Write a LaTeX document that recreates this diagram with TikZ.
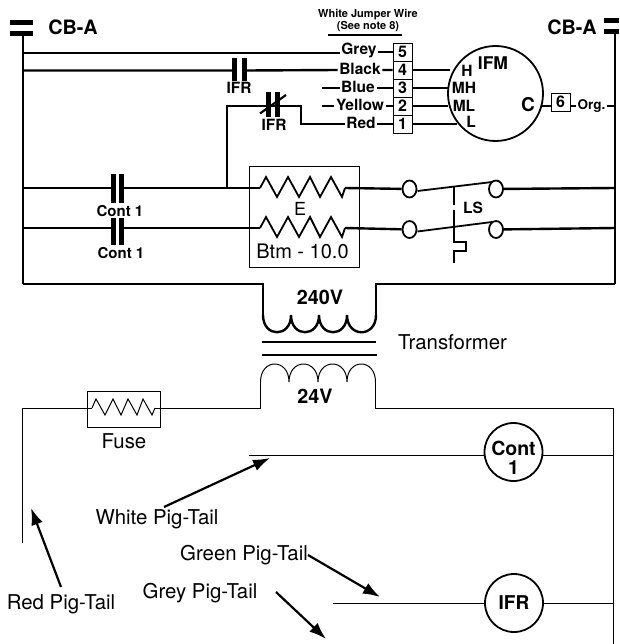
\documentclass[tikz,border=0pt]{standalone}
\usepackage{fontspec}
\setmainfont{TeX Gyre Heros}
\usetikzlibrary{shapes.geometric,arrows.meta}
\tikzset{
  wire/.style={line width=2.4pt},
  thinwire/.style={line width=1pt},
  bar/.style={line width=5pt},
  lbl/.style={inner sep=1.5pt,anchor=mid,yshift=-3pt,font=\bfseries\fontsize{15.5}{15.5}\selectfont},
  big/.style={inner sep=1pt,anchor=mid,yshift=-3.5pt,font=\bfseries\fontsize{19.8}{19.8}\selectfont},
  plain/.style={inner sep=1pt,anchor=mid,yshift=-4pt,font=\fontsize{20.4}{20.4}\selectfont},
  term/.style={draw,line width=0.8pt,minimum width=19pt,minimum height=18pt,inner sep=0pt,font=\bfseries\fontsize{16}{16}\selectfont},
  coil/.style={draw,circle,line width=1.8pt,minimum size=58pt,inner sep=0pt},
  swpt/.style={draw,ellipse,line width=1.8pt,minimum width=14pt,minimum height=17pt,inner sep=0pt},
  pig/.style={>={Latex[length=17pt,width=12pt]},->,line width=2.2pt}
}
\begin{document}
\begin{tikzpicture}[x=1pt,y=-1pt]
\useasboundingbox (0,0) rectangle (619,644);

% breakers
\node[big] (cbl) at (73,28) {CB-A};
\node[big] (cbr) at (572,28) {CB-A};
\draw[bar] (10,23) -- (33,23);
\draw[bar] (10,34) -- (33,34);
\draw[bar] (604,21) -- (619,21);
\draw[bar] (604,32) -- (619,32);

\coordinate (bl0) at (23,34);
\coordinate (bl1) at (23,53);
\coordinate (bl2) at (23,70.5);
\coordinate (bl3) at (23,188);
\coordinate (bl4) at (23,228);
\coordinate (bl5) at (23,284);
\coordinate (br0) at (615,34);
\coordinate (br1) at (615,106);
\coordinate (br2) at (615,188);
\coordinate (br3) at (615,228);
\coordinate (br4) at (615,284);
\draw[wire] (bl0) -- (bl5);
\draw[wire] (br0) -- (br4);

% jumper note
\node[inner sep=0pt,align=center,font=\bfseries\fontsize{11}{12.5}\selectfont] (note) at (368,20.5) {White Jumper Wire\\(See note 8)};
\draw[line width=1.6pt] (328,35) -- (402,35);

% terminals
\node[term] (t5) at (402.5,52) {5};
\node[term] (t4) at (402.5,70) {4};
\node[term] (t3) at (402.5,88) {3};
\node[term] (t2) at (402.5,106) {2};
\node[term] (t1) at (402.5,124) {1};
\node[term] (t6) at (560.5,102) {6};

% wire colours
\node[lbl] (grey) at (359,49) {Grey};
\node[lbl] (black) at (360,69) {Black};
\node[lbl] (blue) at (358,87) {Blue};
\node[lbl] (yellow) at (360,105) {Yellow};
\node[lbl] (red) at (361,123) {Red};
\node[lbl,font=\bfseries\fontsize{13.5}{13.5}\selectfont] (org) at (591.5,104) {Org.};

% motor
\node[coil,minimum size=95pt] (ifm) at (495.5,93.5) {};
\node[big,font=\bfseries\fontsize{17.5}{17.5}\selectfont] (ifmt) at (493,63) {IFM};
\node[lbl] (mh) at (464,88) {MH};
\node[lbl] (ml) at (464,106) {ML};
\node[lbl] (mh2) at (467,71) {H};
\node[lbl] (ml2) at (471,122) {L};
\node[big,font=\bfseries\fontsize{19}{19}\selectfont] (mc) at (528,105) {C};

\coordinate (b1) at (450,70);
\coordinate (b2) at (448,88);
\coordinate (b3) at (448,106);
\coordinate (b4) at (457,124);
\coordinate (b5) at (542,106);
\coordinate (blu) at (322,88);
\coordinate (yel) at (322,106);
\coordinate (r1) at (301,124);
\coordinate (r2) at (301,106);
\coordinate (r3) at (227,106);
\coordinate (r4) at (227,188);

\draw[wire] (bl1) -- (grey.west |- bl1) (grey.east |- t5.west) -- (t5.west);
\draw[wire] (bl2) -- (232,70.5) (247,70.5) -- (black.west |- t4.west) (black.east |- t4.west) -- (t4.west);
\draw[wire] (blu) -- (blue.west |- blu) (blue.east |- t3.west) -- (t3.west);
\draw[wire] (yel) -- (yellow.west |- yel) (yellow.east |- t2.west) -- (t2.west);
\draw[wire] (r4) -- (r3) -- (r2) -- (r1) -- (red.west |- r1) (red.east |- t1.west) -- (t1.west);
\draw[wire] (t4.east) -- (b1);
\draw[wire] (t3.east) -- (b2);
\draw[wire] (t2.east) -- (b3);
\draw[wire] (t1.east) -- (b4);
\draw[wire] (b5) -- (b5 -| t6.west);
\draw[wire] (t6.east |- b5) -- (org.west |- b5);
\draw[wire] (org.east |- b5) -- (br1);

% relay contacts
\draw[bar] (234.5,58) -- (234.5,81);
\draw[bar] (244.5,58) -- (244.5,81);
\node[lbl] (ifra) at (239,88) {IFR};
\draw[bar] (268.5,92) -- (268.5,117);
\draw[bar] (277.5,92) -- (277.5,117);
\draw[line width=2.2pt] (260,113.5) -- (286,95);
\node[lbl] (ifrb) at (274,125) {IFR};

% power contacts
\draw[bar] (113.5,174) -- (113.5,203);
\draw[bar] (121.5,174) -- (121.5,203);
\draw[bar] (113.5,218) -- (113.5,245);
\draw[bar] (121.5,218) -- (121.5,245);
\node[lbl,font=\bfseries\fontsize{15}{15}\selectfont] (conta) at (120,211) {Cont 1};
\node[lbl,font=\bfseries\fontsize{15}{15}\selectfont] (contb) at (121,252.5) {Cont 1};

% heaters
\node[draw,line width=0.7pt,minimum width=110pt,minimum height=101pt,inner sep=0pt] (heat) at (304,216.5) {};
\node[plain,font=\fontsize{18}{18}\selectfont] (e) at (300,209) {E};
\node[plain,font=\fontsize{20}{20}\selectfont] (btm) at (302.5,252) {Btm - 10.0};
\coordinate (ha) at (260,188);
\coordinate (hb) at (345,188);
\coordinate (hc) at (260,228);
\coordinate (hd) at (345,228);
\draw[line width=1.8pt] (ha) -- (266,177) -- (277,197) -- (288,177) -- (299,197) -- (310,177) -- (320,197) -- (331,177) -- (342,197) -- (hb);
\draw[line width=1.8pt] (hc) -- (266,217) -- (277,237) -- (288,217) -- (299,237) -- (310,217) -- (320,237) -- (331,217) -- (342,237) -- (hd);
\draw[wire] (bl3) -- (111,188) (124,188) -- (ha);
\draw[wire] (bl4) -- (111,228) (124,228) -- (hc);

% limit switch
\node[swpt] (s1) at (409.5,189) {};
\node[swpt] (s2) at (409.5,229.5) {};
\node[swpt] (s3) at (496,189) {};
\node[swpt] (s4) at (496,229.5) {};
\draw[wire] (hb) -- (s1);
\draw[wire] (hd) -- (s2);
\draw[wire] (s3) -- (br2);
\draw[wire] (s4) -- (br3);
\draw[line width=1.8pt] (s1) ++(8,2) -- (492,182);
\draw[line width=1.8pt] (s2) ++(8,2) -- (492,222);
\draw[line width=2pt] (454,186) -- (454,205);
\draw[line width=2pt] (454,210) -- (454,242) -- (466,242) -- (466,251) -- (454,251) -- (454,263);
\node[lbl] (ls) at (473,208) {LS};

% transformer
\coordinate (u1) at (263,284);
\coordinate (u2) at (263,315);
\coordinate (u3) at (376,315);
\coordinate (u4) at (376,284);
\draw[wire] (bl5) -- (u1) -- (u2);
\draw[wire] (u2) .. controls (263,338) and (291,338) .. (291,315) .. controls (291,338) and (319,338) .. (319,315) .. controls (319,338) and (347,338) .. (347,315) .. controls (347,338) and (376,338) .. (u3);
\draw[wire] (u3) -- (u4) -- (br4);
\draw[wire] (262,342) -- (376,342);
\draw[wire] (262,355) -- (377,355);
\coordinate (l1) at (260.5,408);
\coordinate (l2) at (260.5,382);
\coordinate (l3) at (375.5,382);
\coordinate (l4) at (375.5,408);
\draw[thinwire] (l2) .. controls (260.5,358) and (289,358) .. (289,382) .. controls (289,358) and (318,358) .. (318,382) .. controls (318,358) and (347,358) .. (347,382) .. controls (347,358) and (375.5,358) .. (l3);
\draw[thinwire] (l2) -- (l1);
\node[big] (v240) at (320,298) {240V};
\node[big] (v24) at (315,397) {24V};
\node[plain] (tr) at (452.5,343) {Transformer};

% control circuit
\node[draw,line width=0.9pt,minimum width=73pt,minimum height=36pt,inner sep=0pt] (fuse) at (123.5,409) {};
\node[plain] (fuset) at (124,442) {Fuse};
\coordinate (f1) at (92,408);
\coordinate (f2) at (155,408);
\coordinate (c1) at (22.5,543);
\coordinate (c2) at (22.5,408);
\coordinate (c3) at (613,408);
\coordinate (c4) at (613,644);
\draw[thinwire] (f1) -- (96,399) -- (105,415) -- (113,399) -- (121,415) -- (128,399) -- (137,415) -- (143,399) -- (152,415) -- (f2);
\draw[thinwire] (c1) -- (c2) -- (f1);
\draw[thinwire] (f2) -- (l1);
\draw[thinwire] (l3) -- (l4) -- (c3) -- (c4);

\node[coil] (cont) at (513.5,452) {};
\node[inner sep=0pt,align=center,font=\bfseries\fontsize{19.5}{19}\selectfont] (contt) at (513.5,457.5) {Cont\\1};
\node[coil] (ifr) at (514,603) {};
\node[big,font=\bfseries\fontsize{19}{19}\selectfont] (ifrt) at (514,603) {IFR};
\coordinate (w1) at (249,455);
\coordinate (w2) at (333,603);
\draw[thinwire] (w1) -- (w1 -| cont.west);
\draw[thinwire] (w1 -| cont.east) -- (w1 -| c3);
\draw[thinwire] (w2) -- (ifr.west);
\draw[thinwire] (ifr.east) -- (w2 -| c3);

% pig tails
\node[plain] (white) at (157,518) {White Pig-Tail};
\node[plain] (green) at (244,554) {Green Pig-Tail};
\node[plain] (greyp) at (200,592) {Grey Pig-Tail};
\node[plain] (redp) at (61,603) {Red Pig-Tail};
\coordinate (swh) at (164,507);
\coordinate (sgr) at (308,555);
\coordinate (sgy) at (276,592);
\coordinate (srd) at (61,587);
\coordinate (awh) at (270,458);
\coordinate (agr) at (380,597);
\coordinate (agy) at (326,639);
\coordinate (ard) at (31,508);
\draw[pig] (swh) -- (awh);
\draw[pig] (sgr) -- (agr);
\draw[pig] (sgy) -- (agy);
\draw[pig] (srd) -- (ard);

\end{tikzpicture}
\end{document}
